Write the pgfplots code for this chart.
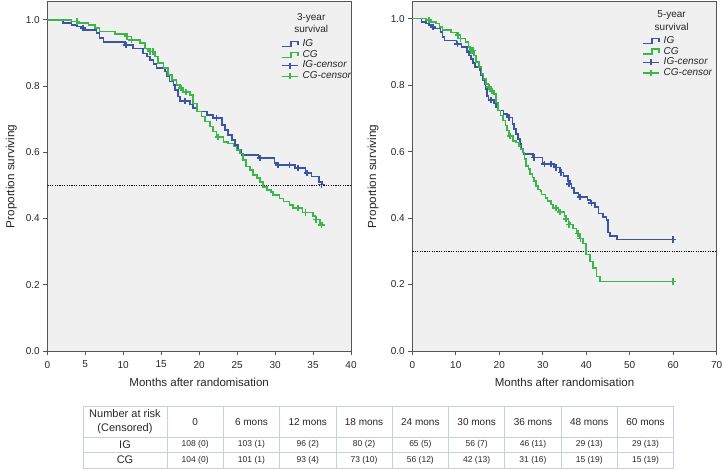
\documentclass[border=0pt]{standalone}
\usepackage{pgfplots}
\pgfplotsset{compat=1.18}
\usepackage{pgfplotstable}
\usepackage{fontspec}
\setmainfont{Liberation Sans}
\definecolor{igblue}{RGB}{60,84,168}
\definecolor{cggreen}{RGB}{60,182,74}
\definecolor{bgray}{RGB}{240,240,240}
\definecolor{framec}{RGB}{85,85,85}
\definecolor{gridc}{RGB}{200,208,220}

\pgfplotstableread{
t s
0 1.000
2.1 0.990
3.2 0.985
3.9 0.980
4.5 0.975
5.0 0.970
6.5 0.960
6.9 0.945
7.4 0.934
10.2 0.924
11.3 0.914
12.6 0.899
13.1 0.889
13.5 0.879
14.0 0.866
14.4 0.854
15.5 0.844
15.7 0.829
16.1 0.814
16.6 0.804
16.8 0.789
17.2 0.768
17.5 0.755
18.8 0.745
19.2 0.733
19.7 0.723
21.0 0.713
21.8 0.703
23.0 0.683
23.4 0.668
23.8 0.653
24.3 0.637
24.7 0.622
25.1 0.607
25.6 0.592
27.8 0.582
29.9 0.567
30.3 0.562
32.6 0.552
34.0 0.537
34.8 0.527
35.8 0.511
36.2 0.503
36.6 0.490
37.2 0.475
38.2 0.464
40.3 0.455
41.0 0.446
42.0 0.434
42.8 0.414
43.9 0.404
44.7 0.394
45.0 0.357
45.4 0.346
47.1 0.336
60.0 0.336
}\IG

\pgfplotstableread{
t s
0 1.000
3.2 0.995
4.1 0.990
5.4 0.985
6.3 0.975
6.9 0.965
8.9 0.958
10.2 0.950
11.1 0.940
12.2 0.930
12.9 0.914
13.3 0.904
14.2 0.889
14.6 0.869
15.3 0.854
15.9 0.834
16.4 0.819
17.0 0.804
17.5 0.794
17.9 0.783
18.8 0.773
19.2 0.748
19.7 0.723
20.3 0.708
20.8 0.693
21.4 0.678
21.8 0.663
22.3 0.647
23.2 0.632
23.8 0.627
24.5 0.617
24.9 0.607
25.4 0.597
25.8 0.577
26.2 0.557
26.7 0.547
27.1 0.532
27.6 0.522
28.0 0.511
28.4 0.496
28.9 0.486
29.5 0.481
29.7 0.471
30.6 0.461
31.1 0.451
31.9 0.441
32.4 0.431
33.6 0.418
35.0 0.407
35.3 0.397
35.9 0.386
36.2 0.381
37.0 0.369
37.8 0.354
38.5 0.339
39.3 0.324
40.0 0.290
40.8 0.269
41.6 0.249
42.4 0.224
43.1 0.209
60.0 0.209
}\CG

\pgfplotstableread{
t s
4.7 0.975
10.4 0.924
18.1 0.755
22.3 0.703
28.0 0.582
30.4 0.562
31.9 0.562
33.0 0.552
34.2 0.537
36.1 0.503
38.5 0.464
41.2 0.446
60.0 0.336
}\IGc

\pgfplotstableread{
t s
3.9 0.995
10.5 0.950
11.1 0.940
13.5 0.904
13.9 0.904
17.6 0.794
18.3 0.783
22.5 0.647
33.0 0.431
34.0 0.418
35.4 0.397
36.1 0.381
38.1 0.354
38.7 0.339
60.0 0.209
}\CGc

\pgfplotsset{
  stepimg/.style={legend image code/.code={\draw[##1] (0pt,-2.5pt) -- (9pt,-2.5pt) -- (9pt,2.5pt) -- (16pt,2.5pt) -- (16pt,-1pt); \path (20pt,0pt);}},
  censimg/.style={legend image code/.code={\draw[##1] (0pt,0pt) -- (16pt,0pt); \draw[##1] (8pt,-3pt) -- (8pt,3pt); \path (20pt,0pt);}},
  km/.style={
    scale only axis, height=349pt, ymin=0,
    axis background/.style={fill=bgray},
    axis line style={framec, line width=1pt},
    tick style={framec, line width=0.9pt},
    tick align=outside, major tick length=4pt,
    xtick pos=left, ytick pos=left,
    ytick={0,0.2,0.4,0.6,0.8,1.0},
    yticklabel style={/pgf/number format/.cd, fixed, fixed zerofill, precision=1},
    /pgf/number format/assume math mode=true,
    tick label style={font=\fontsize{10}{11}\selectfont, text=black!85},
    xticklabel style={yshift=-2.5pt},
    xlabel={Months after randomisation},
    ylabel={Proportion surviving},
    legend cell align=left,
    legend style={draw=none, fill=none, anchor=north west,
      font=\itshape\fontsize{10}{11}\selectfont, text=black!85,
      row sep=0pt, inner sep=0pt,
      nodes={inner sep=0pt, text height=7.7pt, text depth=3pt}},
  },
  igl/.style={const plot, igblue, line width=1.6pt},
  cgl/.style={const plot, cggreen, line width=1.6pt},
  igm/.style={only marks, igblue, mark=+, mark size=3.2pt, mark options={line width=1.6pt}},
  cgm/.style={only marks, cggreen, mark=+, mark size=3.2pt, mark options={line width=1.6pt}},
}

\begin{document}
\begin{tikzpicture}
\useasboundingbox (0pt,0pt) rectangle (723pt,-470pt);

% Left: 3-year
\begin{axis}[km, at={(47.3pt,-351pt)}, anchor=south west, width=303.7pt,
  xmin=0, xmax=40, ymax=1.054, xtick={0,5,...,40},
  every axis y label/.style={at={(axis description cs:-0.118,0.5)}, rotate=90, anchor=center, font=\fontsize{11.7}{13}\selectfont, text=black!85},
  every axis x label/.style={at={(axis description cs:0.5,0)}, yshift=-31.7pt, anchor=center, font=\fontsize{11.5}{13}\selectfont, text=black!85},
  legend style={at={(rel axis cs:0.7695,0.895)}}]
\addplot[black, line width=1.5pt, dash pattern=on 1.2pt off 1.2pt, forget plot] coordinates {(0,0.5) (40,0.5)};
\addplot[igl, restrict x to domain=0:36.25, forget plot] table[x=t,y=s] {\IG};
\addplot[cgl, restrict x to domain=0:36.25, forget plot] table[x=t,y=s] {\CG};
\addplot[igm, restrict x to domain=0:36.25, forget plot] table[x=t,y=s] {\IGc};
\addplot[cgm, restrict x to domain=0:36.25, forget plot] table[x=t,y=s] {\CGc};
\addlegendimage{stepimg, igblue, line width=1.5pt}
\addlegendentry{IG}
\addlegendimage{stepimg, cggreen, line width=1.5pt}
\addlegendentry{CG}
\addlegendimage{censimg, igblue, line width=1.5pt}
\addlegendentry{IG-censor}
\addlegendimage{censimg, cggreen, line width=1.5pt}
\addlegendentry{CG-censor}
\node[align=center, font=\fontsize{10}{12.6}\selectfont, text=black!85] at (rel axis cs:0.869,0.94) {3-year\\survival};
\end{axis}

% Right: 5-year
\begin{axis}[km, at={(412.3pt,-351pt)}, anchor=south west, width=304.4pt,
  xmin=0, xmax=70, ymax=1.050, xtick={0,10,...,70},
  every axis y label/.style={at={(axis description cs:-0.129,0.5)}, rotate=90, anchor=center, font=\fontsize{11.7}{13}\selectfont, text=black!85},
  every axis x label/.style={at={(axis description cs:0.5,0)}, yshift=-31.7pt, anchor=center, font=\fontsize{11.5}{13}\selectfont, text=black!85},
  legend style={at={(rel axis cs:0.7547,0.904)}}]
\addplot[black, line width=1.5pt, dash pattern=on 1.2pt off 1.2pt, forget plot] coordinates {(0,0.3) (70,0.3)};
\addplot[igl, forget plot] table[x=t,y=s] {\IG};
\addplot[cgl, forget plot] table[x=t,y=s] {\CG};
\addplot[igm, forget plot] table[x=t,y=s] {\IGc};
\addplot[cgm, forget plot] table[x=t,y=s] {\CGc};
\addlegendimage{stepimg, igblue, line width=1.5pt}
\addlegendentry{IG}
\addlegendimage{stepimg, cggreen, line width=1.5pt}
\addlegendentry{CG}
\addlegendimage{censimg, igblue, line width=1.5pt}
\addlegendentry{IG-censor}
\addlegendimage{censimg, cggreen, line width=1.5pt}
\addlegendentry{CG-censor}
\node[align=center, font=\fontsize{10}{12.6}\selectfont, text=black!85] at (rel axis cs:0.852,0.947) {5-year\\survival};
\end{axis}

% Number-at-risk table
\begin{scope}[gridc, line width=0.7pt]
\draw (83pt,-406pt) rectangle (673.7pt,-468pt);
\draw (83pt,-437pt) -- (673.7pt,-437pt);
\draw (83pt,-452pt) -- (673.7pt,-452pt);
\foreach \i in {0,...,8} {\draw ({(167+56.3*\i)*1pt},-406pt) -- ({(167+56.3*\i)*1pt},-468pt);}
\end{scope}
\begin{scope}[every node/.style={font=\fontsize{8}{9.5}\selectfont, text=black!85, inner sep=0pt}]
\node[align=center, font=\fontsize{11}{14}\selectfont] at (125pt,-422pt) {Number at risk\\(Censored)};
\node[font=\fontsize{11}{12}\selectfont] at (125pt,-444.5pt) {IG};
\node[font=\fontsize{11}{12}\selectfont] at (125pt,-460pt) {CG};
\foreach \lab [count=\i from 0] in {0,6 mons,12 mons,18 mons,24 mons,30 mons,36 mons,48 mons,60 mons}
  {\node[font=\fontsize{10}{11}\selectfont] at ({(195.15+56.3*\i)*1pt},-422pt) {\lab};}
\foreach \lab [count=\i from 0] in {108 (0),103 (1),96 (2),80 (2),65 (5),56 (7),46 (11),29 (13),29 (13)}
  {\node[font=\fontsize{8.5}{10}\selectfont] at ({(195.15+56.3*\i)*1pt},-444.5pt) {\lab};}
\foreach \lab [count=\i from 0] in {104 (0),101 (1),93 (4),73 (10),56 (12),42 (13),31 (16),15 (19),15 (19)}
  {\node[font=\fontsize{8.5}{10}\selectfont] at ({(195.15+56.3*\i)*1pt},-460pt) {\lab};}
\end{scope}
\end{tikzpicture}
\end{document}
